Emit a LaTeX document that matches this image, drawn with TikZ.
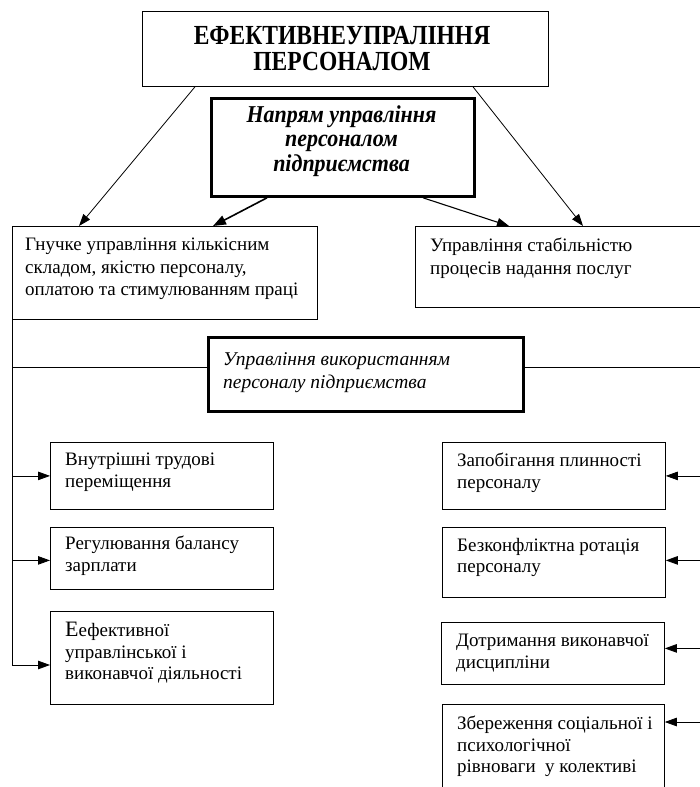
\documentclass[tikz,border=0pt]{standalone}
\usepackage{fontspec}
\usepackage{graphicx}
\setmainfont{Liberation Serif}
\usetikzlibrary{arrows.meta,calc}
\tikzset{
  box/.style={draw, line width=0.8pt, anchor=north west, inner sep=0pt},
  thickbox/.style={box, line width=2.8pt},
  txt/.style={anchor=north west, inner sep=0pt, align=left, font=\fontsize{19}{22.5}\selectfont},
  txtlow/.style={txt, font=\fontsize{19}{21.5}\selectfont},
  arr/.style={-{Triangle[length=12pt,width=8.5pt]}, line width=0.8pt},
  arrthick/.style={-{Triangle[length=13pt,width=9.5pt]}, line width=1.6pt},
  conn/.style={line width=0.8pt}
}
\begin{document}
\begin{tikzpicture}[x=1pt,y=-1pt]
\clip (0,0) rectangle (700,787);
\fill[white] (0,0) rectangle (700,787);
% top
\node[box, minimum width=406pt, minimum height=75pt] (T) at (142,11) {};
\node[inner sep=0pt, font=\bfseries\fontsize{24}{22}\selectfont] (Tt) at (342,52) {\scalebox{0.98}[1.15]{\begin{tabular}{@{}c@{}}ЕФЕКТИВНЕУПРАЛІННЯ\\ПЕРСОНАЛОМ\end{tabular}}};
\node[thickbox, minimum width=263pt, minimum height=98pt] (N) at (210,97) {};
\node[inner sep=0pt, font=\bfseries\itshape\fontsize{22}{22.5}\selectfont] (Nt) at (341.5,142) {\scalebox{1}[1.1]{\begin{tabular}{@{}c@{}}Напрям управління\\персоналом\\підприємства\end{tabular}}};
% second row
\node[box, minimum width=305pt, minimum height=93pt] (G) at (12,226) {};
\node[txt] (Gt) at (25,238) {Гнучке управління кількісним\\складом, якістю персоналу,\\оплатою та стимулюванням праці};
\node[box, minimum width=300pt, minimum height=81pt] (R) at (415,226) {};
\node[txt] (Rt) at (430,238) {Управління стабільністю\\процесів надання послуг};
% middle
\node[thickbox, minimum width=315pt, minimum height=74pt] (M) at (207,336) {};
\node[txt, font=\itshape\fontsize{19.5}{23}\selectfont] (Mt) at (223,352) {Управління використанням\\персоналу підприємства};
% left column
\node[box, minimum width=223pt, minimum height=67pt] (L1) at (50,442) {};
\node[txtlow] (L1t) at (65,453) {Внутрішні трудові\\переміщення};
\node[box, minimum width=223pt, minimum height=62pt] (L2) at (50,527) {};
\node[txtlow] (L2t) at (65,536) {Регулювання балансу\\зарплати};
\node[box, minimum width=223pt, minimum height=93pt] (L3) at (50,611) {};
\node[txtlow] (L3t) at (65,622) {{\fontsize{22}{22}\selectfont Е}ефективної\\управлінської і\\виконавчої діяльності};
% right column
\node[box, minimum width=223pt, minimum height=67pt] (R1) at (442,442) {};
\node[txtlow] (R1t) at (457,453) {Запобігання плинності\\персоналу};
\node[box, minimum width=223pt, minimum height=70pt] (R2) at (442,527) {};
\node[txtlow] (R2t) at (457,538) {Безконфліктна ротація\\персоналу};
\node[box, minimum width=223pt, minimum height=62pt] (R3) at (441,622) {};
\node[txtlow] (R3t) at (456,634) {Дотримання виконавчої\\дисципліни};
\node[box, minimum width=222pt, minimum height=120pt] (R4) at (442,704) {};
\node[txtlow] (R4t) at (457,716) {Збереження соціальної і\\психологічної\\рівноваги\ \ у колективі};
% arrows from top
\draw[arr] ($(T.south west)+(53,0)$) -- ($(G.north west)+(67,0)$);
\draw[arr] ($(T.south west)+(331,0)$) -- ($(R.north west)+(168,0)$);
\draw[arrthick] ($(N.south west)+(57,0)$) -- ($(G.north west)+(201,0)$);
\draw[arr, line width=1.1pt] ($(N.south west)+(213,0)$) -- ($(R.north west)+(94,0)$);
% horizontal line
\coordinate (hl) at (12,367);
\coordinate (vr) at (701,367);
\coordinate (lb) at (12,665);
\coordinate (rb) at (701,722);
\draw[conn] (hl) -- (hl -| M.west);
\draw[conn] (hl -| M.east) -- (vr);
\draw[conn] (G.south west) -- (lb);
\draw[conn] (vr) -- (rb);
% left arrows
\draw[arr] (L1.west -| hl) -- (L1.west);
\draw[arr] ($(L2.west -| hl)+(0,2)$) -- ($(L2.west)+(0,2)$);
\draw[arr] (lb) -- (lb -| L3.west);
% right arrows
\draw[arr] (R1.east -| vr) -- (R1.east);
\draw[arr] ($(R2.east -| vr)+(0,-2)$) -- ($(R2.east)+(0,-2)$);
\draw[arr] ($(R3.east -| vr)+(0,-5)$) -- ($(R3.east)+(0,-5)$);
\draw[arr] (rb) -- (rb -| R4.east);
\end{tikzpicture}
\end{document}
